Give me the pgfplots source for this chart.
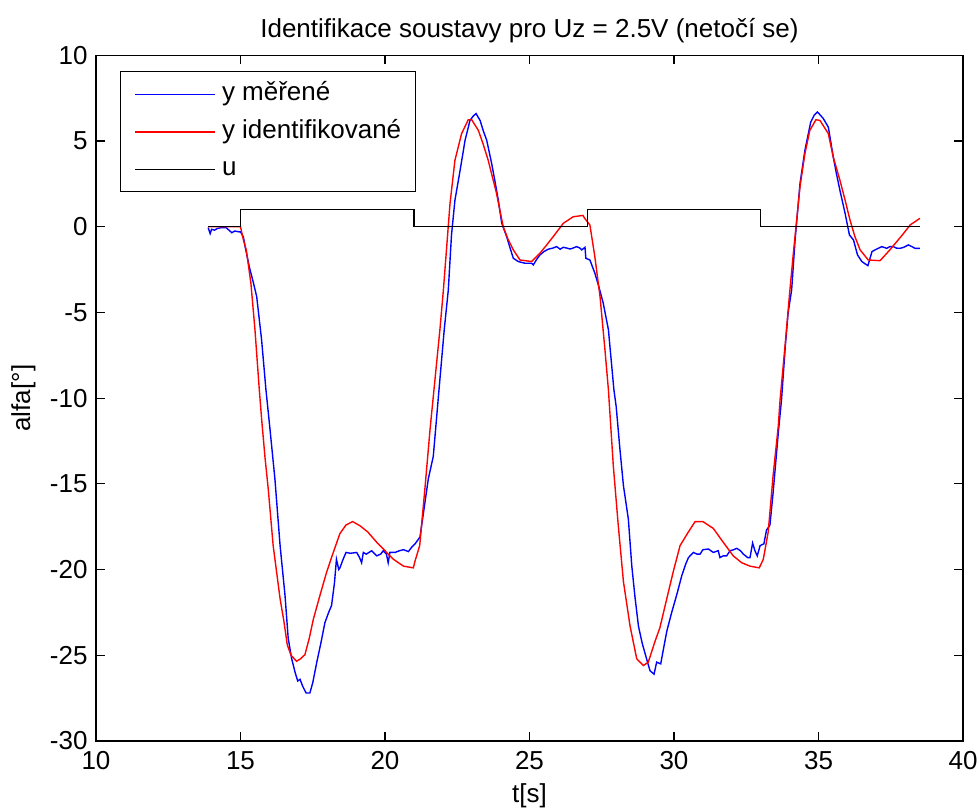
\documentclass[border=0pt]{standalone}
\usepackage{fontspec}
\setmainfont{Liberation Sans}
\usepackage{pgfplots}
\pgfplotsset{compat=1.18}
\begin{document}
\begin{tikzpicture}[font=\fontsize{13}{15.6}\selectfont]
\useasboundingbox (-48pt,-34pt) rectangle (441.5pt,370.5pt);
\begin{axis}[
  scale only axis, width=433.5pt, height=342.85pt,
  xmin=10, xmax=40, ymin=-30, ymax=10,
  xtick={10,15,...,40}, ytick={-30,-25,...,10},
  tick align=inside, major tick length=4.3pt,
  axis line style={line width=0.7pt},
  every tick/.style={black, line width=0.6pt},
  /pgf/number format/assume math mode=true,
  xticklabel style={yshift=-1.7pt},
  yticklabel style={xshift=-0.7pt},
  title={Identifikace soustavy pro Uz = 2.5V (netočí se)},
  title style={at={(axis description cs:0.5,1.0085)}, anchor=base},
  xlabel={t[s]},
  xlabel style={at={(axis description cs:0.5,-0.09)}, anchor=base},
  ylabel={alfa[°]},
  ylabel style={at={(axis description cs:-0.0761,0.5)}, anchor=base},
  legend image code/.code={\draw[#1] plot coordinates {(0pt,0pt) (40pt,0pt)};},
  legend cell align=left,
  legend style={at={(axis description cs:0.0277,0.9767)}, anchor=north west,
    draw=black, line width=0.6pt, inner xsep=7pt, inner ysep=5pt,
    row sep=6.25pt, column sep=3pt,
    nodes={inner sep=0pt, text height=9.5pt, text depth=3pt}},
]
\addplot[color=blue, line width=0.7pt] coordinates {
(13.88,-0.05) (13.95,-0.4) (14.0,-0.15) (14.1,-0.2) (14.2,-0.1) (14.35,-0.05)
(14.5,-0.05) (14.6,-0.2) (14.7,-0.35) (14.8,-0.25) (14.95,-0.3) (15.0,-0.3)
(15.1,-0.6) (15.16,-1.16) (15.3,-2.3) (15.45,-3.3) (15.56,-4.07) (15.73,-6.6)
(15.88,-9.5) (16.02,-11.8) (16.19,-14.7) (16.37,-18.6) (16.54,-21.5) (16.65,-24.0)
(16.77,-25.2) (16.89,-26.0) (16.98,-26.5) (17.06,-26.4) (17.15,-26.8) (17.27,-27.2)
(17.4,-27.2) (17.5,-26.6) (17.64,-25.4) (17.78,-24.3) (17.92,-23.1) (18.05,-22.5)
(18.15,-22.1) (18.25,-20.8) (18.32,-19.4) (18.4,-20.0) (18.44,-19.9) (18.55,-19.4)
(18.65,-19.0) (18.8,-19.05) (19.02,-19.0) (19.12,-19.3) (19.19,-19.6) (19.25,-19.0)
(19.35,-19.1) (19.54,-18.9) (19.71,-19.2) (19.85,-19.1) (19.94,-18.9) (20.05,-19.1)
(20.11,-19.6) (20.17,-19.0) (20.35,-19.0) (20.5,-18.9) (20.64,-18.84) (20.81,-18.95)
(20.92,-18.7) (21.04,-18.5) (21.21,-18.1) (21.33,-16.7) (21.5,-14.7) (21.67,-13.4)
(21.9,-8.9) (22.05,-6.0) (22.19,-3.7) (22.3,-0.5) (22.42,1.55) (22.6,3.3)
(22.77,5.04) (22.94,6.2) (23.05,6.45) (23.15,6.6) (23.29,6.2) (23.4,5.6)
(23.52,5.04) (23.69,3.69) (23.8,2.7) (23.92,1.55) (24.04,0.2) (24.21,-0.58)
(24.32,-1.2) (24.44,-1.84) (24.61,-2.03) (24.84,-2.13) (25.07,-2.13) (25.13,-2.23)
(25.25,-1.9) (25.36,-1.65) (25.5,-1.45) (25.65,-1.31) (25.8,-1.25) (25.94,-1.16)
(26.06,-1.31) (26.17,-1.2) (26.3,-1.25) (26.4,-1.3) (26.5,-1.25) (26.63,-1.16)
(26.75,-1.25) (26.81,-1.35) (26.92,-1.2) (26.95,-1.84) (27.09,-1.94) (27.26,-2.7)
(27.4,-3.5) (27.55,-4.45) (27.73,-6.0) (27.92,-9.5) (28.0,-10.5) (28.13,-13.0)
(28.25,-15.1) (28.42,-17.05) (28.54,-19.8) (28.65,-21.6) (28.77,-23.3) (28.9,-24.3)
(29.05,-25.2) (29.17,-25.9) (29.31,-26.1) (29.4,-25.4) (29.54,-25.5) (29.65,-24.5)
(29.75,-23.6) (29.92,-22.5) (30.09,-21.5) (30.27,-20.35) (30.4,-19.7) (30.5,-19.3)
(30.67,-19.0) (30.8,-19.1) (30.9,-19.1) (31.0,-18.84) (31.19,-18.8) (31.36,-19.0)
(31.53,-18.9) (31.59,-19.3) (31.7,-19.2) (31.82,-19.2) (31.94,-18.9) (32.05,-18.85)
(32.17,-18.76) (32.3,-18.9) (32.4,-19.1) (32.55,-19.3) (32.63,-19.3) (32.72,-18.45)
(32.8,-18.9) (32.88,-19.2) (32.98,-18.6) (33.11,-18.5) (33.2,-17.7) (33.32,-17.4)
(33.43,-15.5) (33.61,-12.0) (33.72,-10.1) (33.85,-7.0) (33.95,-5.0) (34.07,-3.7)
(34.19,-0.77) (34.36,2.52) (34.53,4.46) (34.73,6.1) (34.85,6.5) (34.96,6.69)
(35.07,6.5) (35.17,6.3) (35.34,5.81) (35.42,5.0) (35.51,4.07) (35.62,3.1)
(35.74,2.13) (35.92,0.78) (36.07,-0.48) (36.21,-0.77) (36.35,-1.65) (36.5,-2.03)
(36.6,-2.15) (36.71,-2.27) (36.85,-1.45) (36.96,-1.35) (37.08,-1.25) (37.19,-1.16)
(37.36,-1.26) (37.47,-1.16) (37.59,-1.16) (37.7,-1.25) (37.82,-1.26) (37.95,-1.2)
(38.11,-1.06) (38.22,-1.15) (38.34,-1.26) (38.51,-1.26)
};
\addlegendentry{y měřené}
\addplot[color=red, line width=0.7pt] coordinates {
(13.88,0) (15.0,0) (15.1,-0.77) (15.2,-1.35) (15.36,-3.3) (15.5,-6.0)
(15.65,-9.5) (15.73,-11.2) (15.85,-13.5) (15.96,-15.3) (16.13,-18.6) (16.37,-21.7)
(16.5,-23.0) (16.62,-24.4) (16.75,-25.0) (16.94,-25.35) (17.08,-25.2) (17.23,-24.96)
(17.38,-24.0) (17.52,-22.9) (17.75,-21.5) (17.98,-20.15) (18.21,-19.0) (18.44,-17.9)
(18.65,-17.4) (18.88,-17.2) (19.13,-17.44) (19.4,-17.8) (19.71,-18.4) (20.0,-18.9)
(20.29,-19.4) (20.64,-19.8) (20.98,-19.9) (21.04,-19.5) (21.2,-18.6) (21.38,-15.3)
(21.56,-11.8) (21.73,-8.9) (21.9,-6.0) (22.02,-3.7) (22.25,1.36) (22.42,3.88)
(22.65,5.43) (22.88,6.24) (23.0,6.24) (23.23,5.62) (23.4,4.8) (23.57,3.88)
(23.86,1.94) (24.09,0.0) (24.25,-0.7) (24.44,-1.35) (24.67,-1.94) (25.07,-2.03)
(25.36,-1.55) (25.6,-1.05) (25.82,-0.58) (26.17,0.2) (26.51,0.58) (26.85,0.66)
(26.91,0.49) (27.09,0.1) (27.26,-1.74) (27.44,-4.07) (27.61,-7.17) (27.73,-9.5)
(27.9,-13.95) (28.07,-17.4) (28.25,-20.7) (28.48,-23.3) (28.71,-25.2) (28.94,-25.6)
(29.11,-25.4) (29.34,-24.2) (29.51,-23.4) (29.75,-21.7) (29.97,-20.15) (30.21,-18.6)
(30.5,-17.8) (30.73,-17.2) (31.0,-17.2) (31.36,-17.6) (31.7,-18.4) (32.05,-19.2)
(32.34,-19.6) (32.63,-19.8) (32.95,-19.9) (33.09,-19.4) (33.26,-17.8) (33.43,-14.5)
(33.61,-11.6) (33.67,-10.1) (33.85,-6.8) (34.01,-3.7) (34.13,-1.55) (34.36,2.33)
(34.53,4.27) (34.7,5.62) (34.91,6.24) (35.05,6.2) (35.34,5.43) (35.51,4.07)
(35.74,2.72) (35.92,1.55) (36.09,0.39) (36.26,-0.58) (36.44,-1.35) (36.72,-1.94)
(37.13,-1.98) (37.47,-1.35) (37.93,-0.42) (38.17,0.1) (38.51,0.49)
};
\addlegendentry{y identifikované}
\addplot[color=black, line width=0.7pt] coordinates {
(13.88,0) (15,0) (15,1) (21,1) (21,0) (27,0) (27,1) (33,1) (33,0) (38.51,0)
};
\addlegendentry{u}
\end{axis}
\end{tikzpicture}
\end{document}
